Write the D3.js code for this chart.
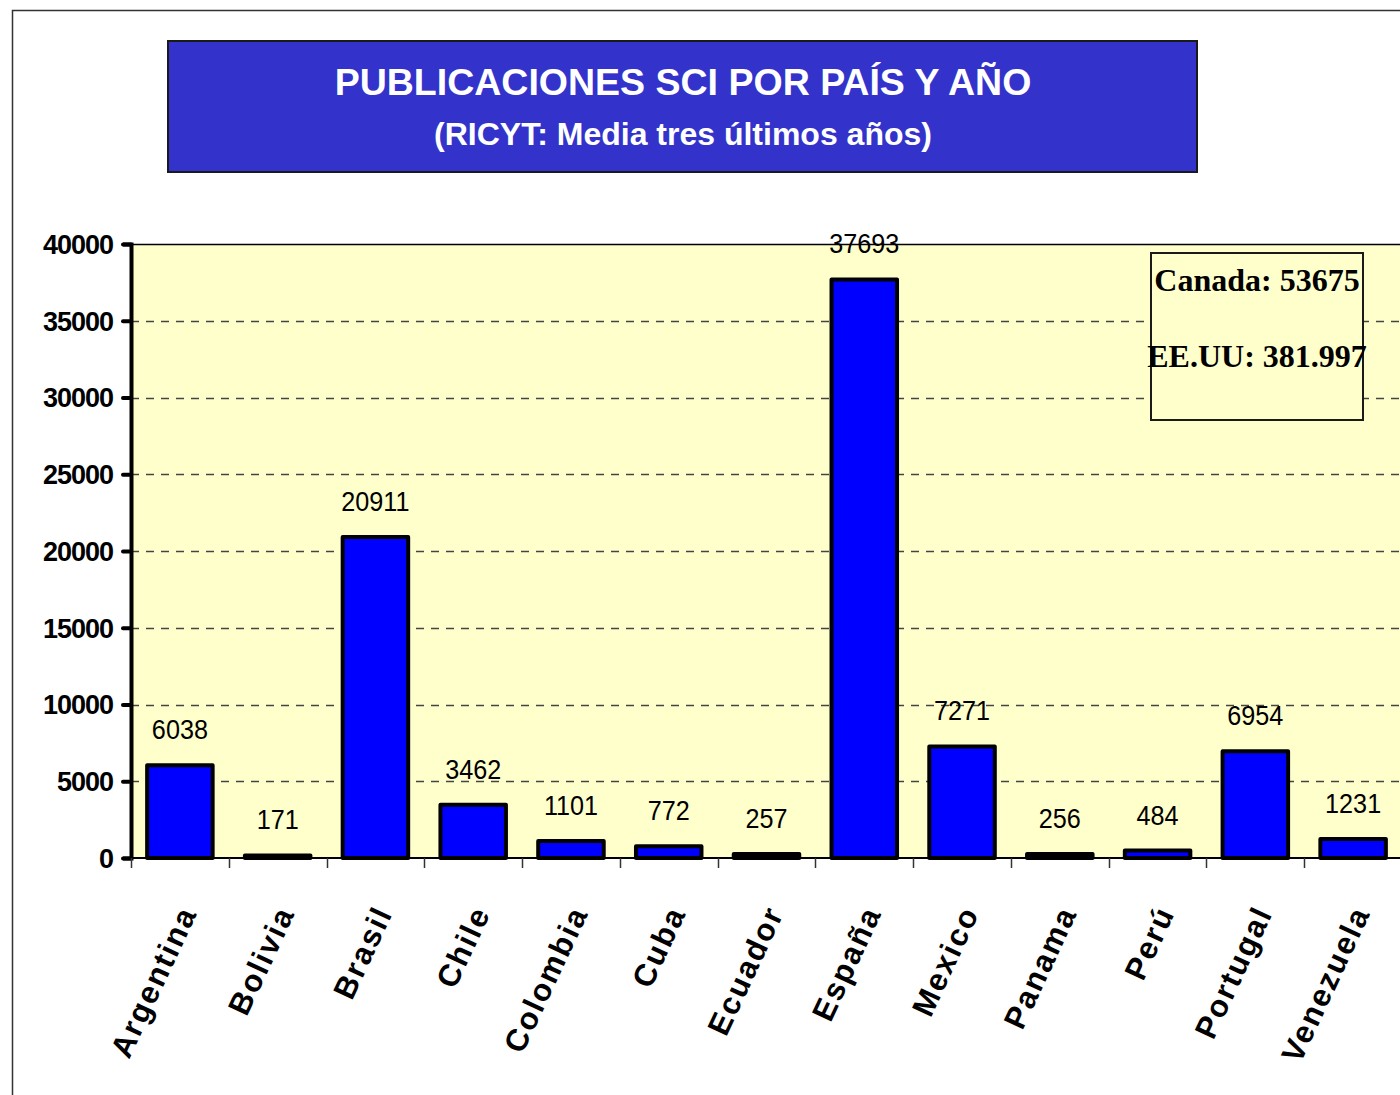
<html>
<head>
  <meta charset="utf-8">
  <script src="https://cdn.jsdelivr.net/npm/d3@7"></script>
  <style>
    body { margin: 0; background: #fff; }
  </style>
</head>
<body>
  <script>

    var countries = ['Argentina', 'Bolivia', 'Brasil', 'Chile', 'Colombia', 'Cuba', 'Ecuador',
                     'España', 'Mexico', 'Panama', 'Perú', 'Portugal', 'Venezuela'];
    var publications = [6038, 171, 20911, 3462, 1101, 772, 257, 37693, 7271, 256, 484, 6954, 1231];
    var yTicks = [0, 5000, 10000, 15000, 20000, 25000, 30000, 35000, 40000];
    var titleLines = ['PUBLICACIONES SCI POR PAÍS Y AÑO', '(RICYT: Media tres últimos años)'];
    var noteLines = ['Canada: 53675', 'EE.UU: 381.997'];

    var width = 1400,
        height = 1095;

    var svg = d3.select('body')
      .append('svg')
      .attr('width', width)
      .attr('height', height);

    // outer frame (only top and left edges are visible)
    svg.append('path')
      .attr('d', 'M12.5,1095 V10.5 H1400')
      .attr('fill', 'none')
      .attr('stroke', '#333')
      .attr('stroke-width', 1.5);

    // title box
    svg.append('rect')
      .attr('x', 168).attr('y', 41)
      .attr('width', 1029).attr('height', 131)
      .attr('fill', '#3333cc')
      .attr('stroke', '#1a1a1a')
      .attr('stroke-width', 2);

    svg.selectAll('.title')
      .data(titleLines)
      .enter()
      .append('text')
      .attr('x', 683)
      .attr('y', (d, i) => i == 0 ? 95 : 145)
      .attr('text-anchor', 'middle')
      .attr('fill', '#fff')
      .attr('font-family', 'Arial, Liberation Sans, sans-serif')
      .attr('font-weight', 'bold')
      .attr('font-size', (d, i) => i == 0 ? 37.5 : 32)
      .text(d => d);

    var plotLeft = 131, plotTop = 244, plotBottom = 858, plotRight = 1402;

    var x = d3.scaleBand()
      .domain(countries)
      .range([plotLeft, plotRight])
      .paddingInner(0.33)
      .paddingOuter(0.165);

    var xTicks = d3.scaleBand()
      .domain(countries)
      .range([plotLeft, plotRight]);

    var y = d3.scaleLinear()
      .domain([0, 40000])
      .range([plotBottom, plotTop]);

    // plot area
    svg.append('rect')
      .attr('x', plotLeft).attr('y', plotTop)
      .attr('width', plotRight - plotLeft).attr('height', plotBottom - plotTop)
      .attr('fill', '#ffffcc')
      .attr('stroke', 'none');

    // grid lines
    svg.append('g')
      .selectAll('line')
      .data(yTicks.filter(d => d > 0 && d < 40000))
      .enter()
      .append('line')
      .attr('x1', plotLeft).attr('x2', plotRight)
      .attr('y1', d => Math.round(y(d)) + 0.5)
      .attr('y2', d => Math.round(y(d)) + 0.5)
      .attr('stroke', '#444')
      .attr('stroke-width', 1.3)
      .attr('stroke-dasharray', '8,7');

    // top border of plot
    svg.append('line')
      .attr('x1', plotLeft).attr('x2', plotRight)
      .attr('y1', plotTop + 0.5).attr('y2', plotTop + 0.5)
      .attr('stroke', '#000')
      .attr('stroke-width', 1.5);

    // note box
    svg.append('rect')
      .attr('x', 1151).attr('y', 253)
      .attr('width', 212).attr('height', 167)
      .attr('fill', '#ffffcc')
      .attr('stroke', '#1a1a1a')
      .attr('stroke-width', 2);

    svg.selectAll('.note')
      .data(noteLines)
      .enter()
      .append('text')
      .attr('x', 1257)
      .attr('y', (d, i) => i == 0 ? 291 : 367)
      .attr('text-anchor', 'middle')
      .attr('fill', '#000')
      .attr('font-family', 'Times New Roman, Liberation Serif, serif')
      .attr('font-weight', 'bold')
      .attr('font-size', 32)
      .text(d => d);

    // bars
    svg.append('g')
      .selectAll('rect')
      .data(publications)
      .enter()
      .append('rect')
      .attr('x', (d, i) => x(countries[i]))
      .attr('y', d => y(d))
      .attr('width', x.bandwidth())
      .attr('height', d => plotBottom - y(d))
      .attr('fill', '#0000ff')
      .attr('stroke', '#000')
      .attr('stroke-width', 4)
      .attr('stroke-linejoin', 'round');

    // value labels (narrow digits)
    svg.append('g')
      .selectAll('text')
      .data(publications)
      .enter()
      .append('text')
      .attr('transform', (d, i) => 'translate(' + (x(countries[i]) + x.bandwidth() / 2) + ',' + (y(d) - 26) + ') scale(0.9,1)')
      .attr('text-anchor', 'middle')
      .attr('fill', '#000')
      .attr('font-family', 'Arial, Liberation Sans, sans-serif')
      .attr('font-size', 28)
      .text(d => d);

    // y axis
    var yAxis = svg.append('g')
      .attr('transform', 'translate(' + plotLeft + ',0)')
      .call(d3.axisLeft(y).tickValues(yTicks).tickSize(8).tickPadding(10).tickFormat(d3.format('d')));
    yAxis.select('.domain')
      .attr('stroke', '#000')
      .attr('stroke-width', 4);
    yAxis.selectAll('.tick line')
      .attr('stroke', '#000')
      .attr('stroke-width', 4)
      .attr('stroke-linecap', 'round');
    yAxis.selectAll('.tick text')
      .attr('fill', '#000')
      .attr('font-family', 'Arial, Liberation Sans, sans-serif')
      .attr('font-weight', 'bold')
      .attr('font-size', 27)
      .attr('letter-spacing', -1)
      .attr('dy', '0.35em');

    // x axis
    svg.append('line')
      .attr('x1', plotLeft).attr('x2', plotRight)
      .attr('y1', plotBottom).attr('y2', plotBottom)
      .attr('stroke', '#000')
      .attr('stroke-width', 2);

    svg.append('g')
      .selectAll('line')
      .data(countries)
      .enter()
      .append('line')
      .attr('x1', d => Math.round(xTicks(d)) + 0.5)
      .attr('x2', d => Math.round(xTicks(d)) + 0.5)
      .attr('y1', plotBottom)
      .attr('y2', plotBottom + 10)
      .attr('stroke', '#333')
      .attr('stroke-width', 1.5);

    svg.append('g')
      .selectAll('text')
      .data(countries)
      .enter()
      .append('text')
      .attr('transform', d => 'translate(' + (xTicks(d) + xTicks.bandwidth() / 2 + 8) + ',' + 908 + ') rotate(-65)')
      .attr('text-anchor', 'end')
      .attr('dy', '0.35em')
      .attr('fill', '#000')
      .attr('font-family', 'Arial, Liberation Sans, sans-serif')
      .attr('font-weight', 'bold')
      .attr('font-size', 31)
      .attr('letter-spacing', 2)
      .text(d => d);

  </script>
</body>
</html>
